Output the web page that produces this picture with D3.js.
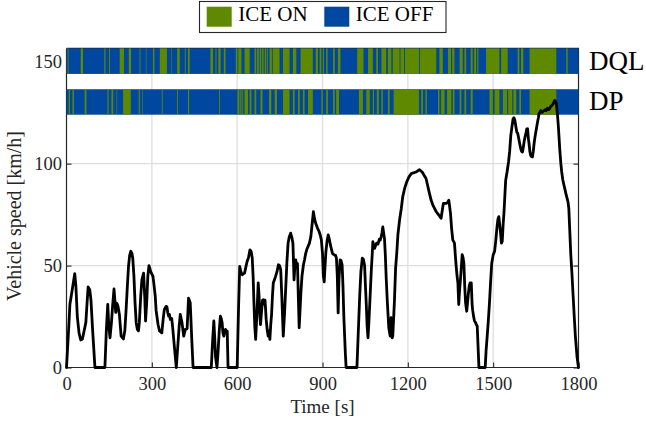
<!DOCTYPE html>
<html>
<head>
<meta charset="utf-8">
<script src="https://cdn.jsdelivr.net/npm/d3@7"></script>
<style>
  html, body { margin: 0; padding: 0; background: #ffffff; }
  svg { display: block; }
  svg text { font-family: "Liberation Serif", "DejaVu Serif", "Times New Roman", Times, serif !important; }
</style>
</head>
<body>
<svg id="chart" width="646" height="424"></svg>
<script>
// ---------------- data ----------------
const timeS = [0,8,12,20,29,33,38,44,50,56,62,68,72,76,82,86,92,100,135,140,145,149,153,158,162,167,170,173,177,181,186,192,200,205,209,214,218,222,226,230,233,237,241,245,249,253,256,261,265,271,275,278,282,286,290,296,304,308,312,315,318,322,327,335,340,344,350,353,356,359,362,365,370,373,379,386,392,396,400,406,412,418,424,429,432,435,440,445,509,514,518,521,524,529,533,537,541,544,547,550,553,556,559,562,565,568,600,605,609,613,618,622,626,630,635,640,645,649,653,656,659,662,665,669,674,677,680,682,686,689,692,695,698,702,706,709,712,715,718,721,724,727,731,735,740,745,749,753,757,762,766,771,775,779,783,788,792,796,800,803,806,809,812,815,818,821,824,828,833,837,841,845,849,854,859,864,868,872,876,882,888,892,896,900,903,906,909,912,916,920,924,928,935,939,942,946,949,952,955,958,962,965,969,972,975,980,983,1021,1026,1031,1035,1040,1044,1048,1051,1054,1057,1060,1063,1066,1069,1072,1075,1077,1080,1083,1087,1090,1095,1100,1103,1106,1109,1112,1115,1118,1121,1124,1128,1133,1136,1138,1141,1143,1145,1147,1150,1153,1157,1161,1165,1171,1177,1182,1189,1196,1204,1212,1220,1229,1235,1241,1245,1249,1253,1258,1264,1270,1276,1282,1288,1294,1300,1305,1309,1313,1317,1321,1325,1330,1335,1340,1344,1347,1350,1354,1358,1364,1367,1370,1373,1376,1379,1382,1386,1391,1394,1397,1400,1403,1407,1410,1413,1416,1419,1423,1426,1428,1431,1434,1438,1441,1444,1447,1450,1472,1475,1479,1483,1487,1491,1495,1500,1505,1509,1513,1517,1520,1523,1526,1529,1532,1535,1538,1541,1544,1549,1554,1558,1562,1566,1570,1573,1576,1580,1583,1586,1589,1593,1597,1600,1603,1606,1609,1612,1615,1618,1621,1624,1626,1629,1632,1635,1638,1641,1644,1647,1650,1653,1656,1659,1661,1664,1667,1670,1673,1676,1680,1683,1686,1691,1695,1698,1702,1706,1711,1716,1719,1722,1726,1729,1732,1734,1738,1741,1745,1749,1753,1757,1760,1763,1766,1769,1773,1777,1780,1785,1789,1795,1800];
const speedKmh = [0,20,31,38,46,40,25,17,13.5,14,18,22,31,39.5,38,33,18,0,0,18,31,20,14.6,22,30,38.5,33,27,31.5,30,26,15.4,14,18,27,40,49.6,55,57,56,53.5,45,31.7,22,18.7,18,22,35,43,46.3,35,22.8,32,45,50,47,44.7,40,35,28,25,21,17.9,17,24,28.5,30,29.8,27,25.2,26,23.6,24,20,10.6,0,12,20,26,22,15.4,18.7,19,34,33,31.7,15,0,0,14,22.8,15,5,0,8,18,25.2,24,22,17,15.4,17,18.7,18,17.9,0,0,30,49.6,47,45.5,46,46.3,49,52,54,57.7,57,53.7,45,31.7,20,13.8,25,41.5,35,25,21,28,33,33.3,31,33,23.6,18,15.4,18,13.8,21,26,35,41.5,43,44.7,47,50.4,50,48,35,15.4,25,39.8,52,61,64,65.9,64,61,43,50,52.8,50,51,35,19.5,28,36.6,45,50.4,53,56,58,59.3,61,64.2,71,76.4,73,70.7,68.5,66.7,65,62.6,56,45,42,50,56.8,62,65,63,60,56,55.5,55.2,55,53.6,45,26.8,43.8,52.8,52.5,50.3,40,25,8,0,0,18,35.7,47,53.6,53,50,40,30.8,20,14.6,22,30.8,40,48.7,56,61.7,60,58.4,60,61,60.5,63,62.5,64,66,69,66,63,55,43.8,32,19.5,17,15.4,24.4,22,14.6,15.4,24,33,48.7,56,65,72.4,78,83.7,88,91,93.5,95.1,95.5,95.9,96.5,97,96.5,96,95.4,94,92.7,89,85.4,82,79.7,78,76.4,75.5,74.8,74,73.2,77,80.5,80.5,80.5,81,82.1,79,75.6,68,62.6,61,55,49.6,45,41.5,30.9,38,45,55.3,54,51.2,40,31.7,27.6,32,36.5,40,41.5,41.5,31,28,25.2,23,22,21,20.3,10,0,0,8,15.4,23,31.7,42,51.2,55.2,57,62,68.3,73,74,70,65.9,61,62,70,76,84,91.9,96,100.8,106,113.8,118,122,122.5,121.5,118,115.5,115,113,110,107.3,106,105.7,108,111,113,114.7,117,117.1,112,110,106,104,103.5,103.3,106,110,113,115.5,118,120.4,122.5,124.4,125,126,125.5,125.2,125.8,126,126.5,126,127.2,126.5,126.8,128,128.5,129.3,131,130.5,129.8,124,118.7,112,107.3,100,95.9,92,89.4,87,84.5,83,81.3,78,68.2,55.2,46,38,25,15.4,5,0];

// ICE ON intervals [start s, end s]; the rest of each strip is ICE OFF
const dqlIceOn = [[4,7],[50,58],[133,137],[150,153],[187,202],[219,227],[257,260],[279,281],[304,309],[328,353],[369,371],[389,398],[416,419],[427,433],[506,515],[524,527],[534,542],[553,559],[595,601],[604,615],[626,644],[661,667],[670,676],[679,685],[688,693],[697,702],[705,708],[714,722],[725,749],[761,784],[796,808],[823,866],[876,884],[890,896],[901,905],[913,918],[937,943],[954,963],[1022,1044],[1060,1077],[1089,1095],[1107,1124],[1130,1142],[1147,1171],[1174,1187],[1190,1240],[1243,1300],[1311,1323],[1341,1352],[1356,1364],[1382,1393],[1399,1405],[1421,1428],[1433,1440],[1444,1448],[1475,1522],[1528,1551],[1586,1592],[1598,1606],[1628,1722],[1757,1762]];
const dpIceOn = [[8,12],[21,26],[64,70],[144,148],[158,164],[176,178],[199,226],[254,258],[267,269],[335,338],[389,392],[427,431],[536,539],[601,608],[611,615],[618,621],[626,638],[644,650],[661,667],[682,689],[712,720],[732,740],[761,784],[796,802],[814,820],[831,837],[849,866],[896,901],[913,919],[937,943],[948,958],[1028,1042],[1054,1066],[1077,1081],[1091,1098],[1107,1112],[1130,1136],[1150,1239],[1247,1253],[1262,1267],[1306,1311],[1317,1329],[1338,1353],[1358,1364],[1382,1388],[1399,1405],[1421,1428],[1487,1499],[1505,1522],[1534,1549],[1553,1567],[1571,1581],[1592,1598],[1628,1722]];

const strips = ["DQL", "DP"];
const stripRange = { DQL: [144, 156.5], DP: [124, 136.5] };
const legendLabels = ["ICE ON", "ICE OFF"];
const xTicks = [0, 300, 600, 900, 1200, 1500, 1800];
const yTicks = [0, 50, 100, 150];

// ---------------- drawing ----------------
const SERIF = "'Liberation Serif', 'DejaVu Serif', 'Times New Roman', serif";
const GREEN = "#5f8a00", BLUE = "#0047a0", AX = "#262626", GRID = "#dedede";
const svg = d3.select("#chart");
const x = d3.scaleLinear().domain([0, 1800]).range([66.5, 578.5]);
const y = d3.scaleLinear().domain([0, 150]).range([367.5, 61.7]);
const yTop = 156.5;

// grid
const g = svg.append("g");
g.selectAll("line.vg").data(xTicks.slice(1, -1)).join("line")
  .attr("x1", d => x(d)).attr("x2", d => x(d))
  .attr("y1", y(0)).attr("y2", y(yTop))
  .attr("stroke", GRID).attr("stroke-width", 1.3);
g.selectAll("line.hg").data(yTicks.slice(1)).join("line")
  .attr("x1", x(0)).attr("x2", x(1800))
  .attr("y1", d => y(d)).attr("y2", d => y(d))
  .attr("stroke", GRID).attr("stroke-width", 1.3);

// axes
const fs = "18.5px";
const fmt = d3.format("d");
const left = svg.append("g").attr("transform", `translate(${x(0)},0)`)
  .call(d3.axisLeft(y).tickValues(yTicks).tickFormat(fmt).tickSize(-5).tickPadding(4.5).tickSizeOuter(0));
const right = svg.append("g").attr("transform", `translate(${x(1800)},0)`)
  .call(d3.axisRight(y).tickValues(yTicks).tickSize(-5).tickFormat("").tickSizeOuter(0));
const bottom = svg.append("g").attr("transform", `translate(0,${y(0)})`)
  .call(d3.axisBottom(x).tickValues(xTicks).tickFormat(fmt).tickSize(-5).tickPadding(9).tickSizeOuter(0));
[left, right, bottom].forEach(a => {
  a.attr("font-family", SERIF).attr("font-size", null);
  a.select(".domain").remove();
  a.selectAll(".tick line").attr("stroke", AX).attr("stroke-width", 1.1);
  a.selectAll(".tick text").attr("fill", AX).attr("font-family", SERIF).style("font-size", fs);
});
// box lines
svg.append("path")
  .attr("d", `M${x(0)},${y(yTop)}V${y(0)}H${x(1800)}V${y(yTop)}H${x(0)}`)
  .attr("fill", "none").attr("stroke", AX).attr("stroke-width", 1.2);

// strips
strips.forEach(name => {
  const [lo, hi] = stripRange[name];
  const on = name === "DQL" ? dqlIceOn : dpIceOn;
  const sg = svg.append("g");
  sg.append("rect")
    .attr("x", x(0)).attr("width", x(1800) - x(0))
    .attr("y", y(hi)).attr("height", y(lo) - y(hi))
    .attr("fill", BLUE);
  sg.selectAll("rect.on").data(on).join("rect")
    .attr("x", d => x(d[0])).attr("width", d => x(d[1]) - x(d[0]))
    .attr("y", y(hi)).attr("height", y(lo) - y(hi))
    .attr("fill", GREEN);
  sg.append("text")
    .attr("x", 589).attr("y", y((lo + hi) / 2) + 8.5)
    .attr("font-family", SERIF)
    .style("font-size", "27px").attr("fill", "#000")
    .text(name);
});

// speed line
const pts = timeS.map((t, i) => [t, speedKmh[i]]);
svg.append("path")
  .datum(pts)
  .attr("d", d3.line().x(d => x(d[0])).y(d => y(d[1])))
  .attr("fill", "none").attr("stroke", "#000").attr("stroke-width", 2.8)
  .attr("stroke-linejoin", "round").attr("stroke-linecap", "round");

// axis labels
svg.append("text")
  .attr("x", (x(0) + x(1800)) / 2).attr("y", 413)
  .attr("text-anchor", "middle").attr("font-family", SERIF)
  .style("font-size", "19px").attr("fill", AX)
  .text("Time [s]");
svg.append("text")
  .attr("transform", "translate(21,216) rotate(-90)")
  .attr("text-anchor", "middle").attr("font-family", SERIF)
  .style("font-size", "20px").attr("fill", AX)
  .text("Vehicle speed [km/h]");

// legend
const lg = svg.append("g");
lg.append("rect").attr("x", 199.5).attr("y", 1.5).attr("width", 246.5).attr("height", 31)
  .attr("fill", "#fff").attr("stroke", AX).attr("stroke-width", 1.1);
const legendColors = [GREEN, BLUE];
const legendX = [206.7, 324.3];
legendLabels.forEach((lab, i) => {
  lg.append("rect").attr("x", legendX[i]).attr("y", 6.7).attr("width", 25).attr("height", 20)
    .attr("fill", legendColors[i]);
  lg.append("text").attr("x", legendX[i] + 31.5).attr("y", 20.8)
    .attr("font-family", SERIF)
    .style("font-size", "21px").attr("fill", "#000").text(lab);
});
</script>
</body>
</html>
